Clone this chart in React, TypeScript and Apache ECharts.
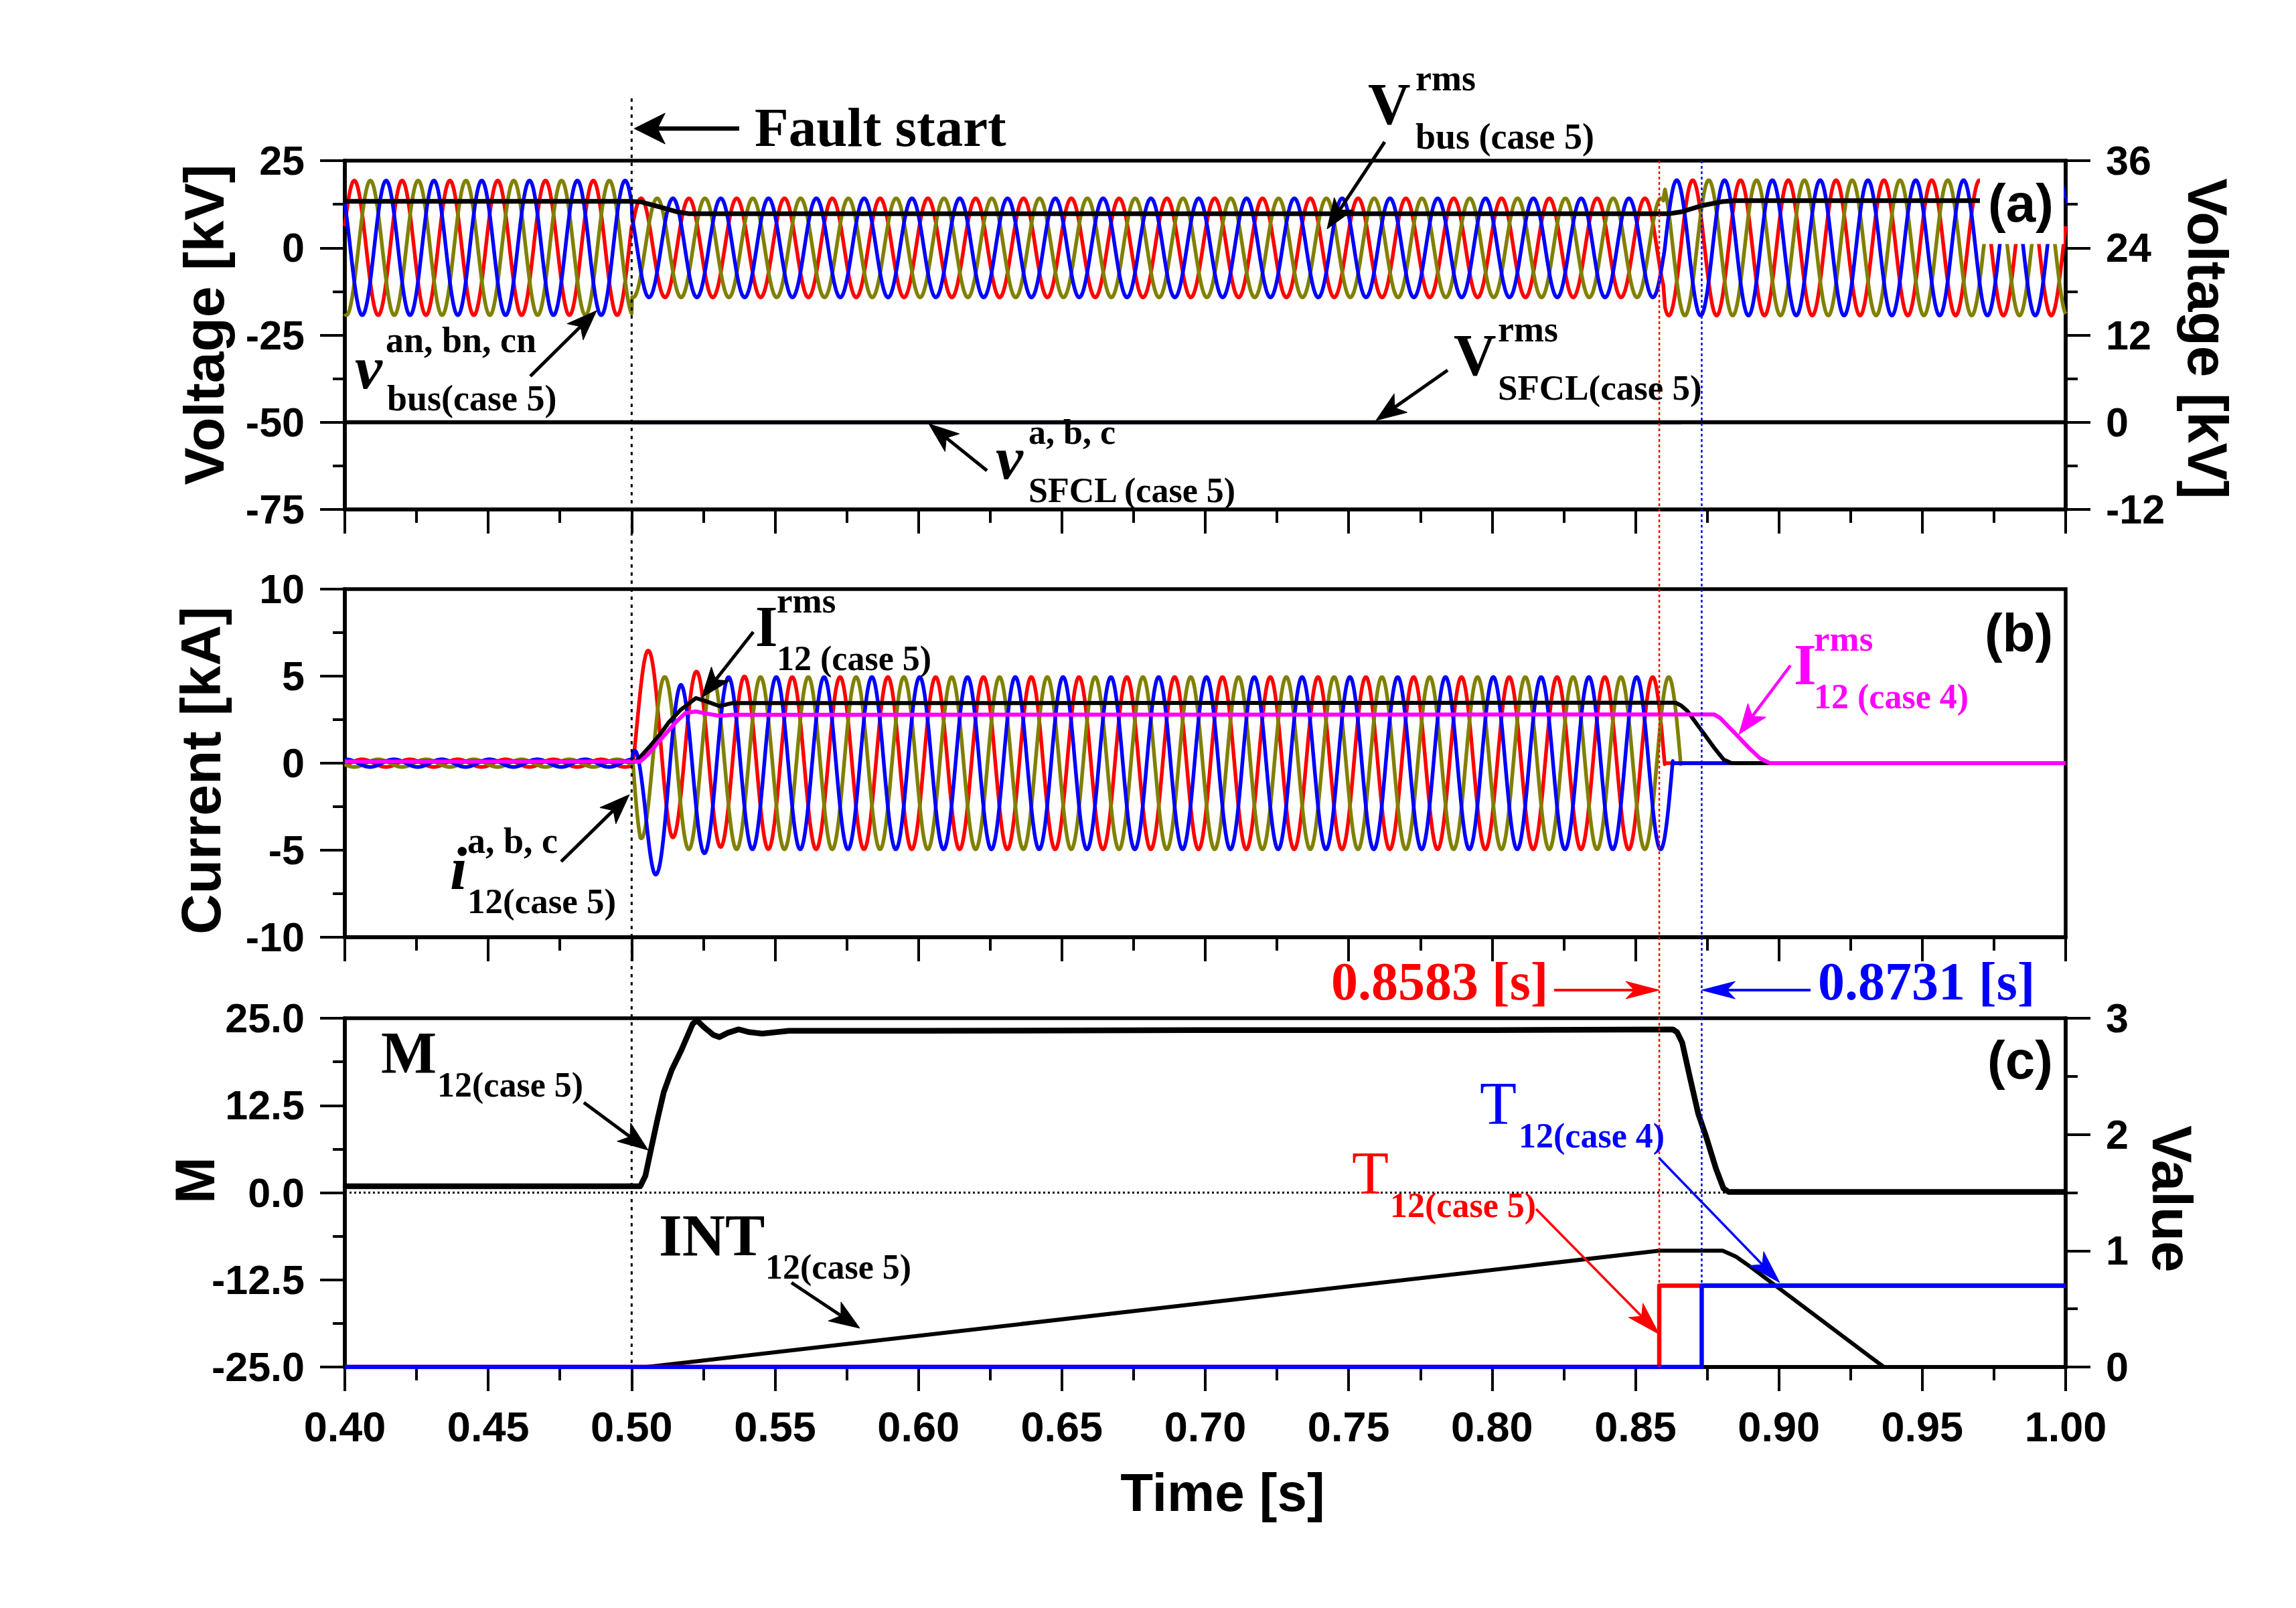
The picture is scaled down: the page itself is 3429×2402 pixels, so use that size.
import React, { useEffect, useRef } from 'react';
import * as echarts from 'echarts';

// ================= values =================
const TIME_MIN = 0.4;
const TIME_MAX = 1.0;
const TIME_INTERVAL = 0.05;
const MAINS_HZ = 60; // 6 cycles per 0.1 s in the plot
const FAULT_START = 0.5;
const BREAK_TIMES = [0.8583, 0.8731]; // case 5 (red), case 4 (blue)
const PHASE_COLORS = ['#FF0000', '#808000', '#0000FF'];
const SFCL_PHASE_COLORS = ['#FF0000', '#00CC00', '#0000FF'];

// ---- panel (a): bus phase voltages [kV], left axis
const VBUS_CREST_TIME = [0.4033, 0.4089, 0.4144]; // first crest of phases a, b, c
const VBUS_CREST = [[0.4, 19.3], [0.5, 19.3], [0.5002, 14.2], [0.8597, 14.2], [0.8603, 19.4], [1.0, 19.4]];
// rms values [kV], right axis
const VBUS_RMS = [[0.4, 30.4], [0.5, 30.4], [0.5035, 30.3], [0.51, 29.6], [0.516, 28.95], [0.52, 28.7], [0.8616, 28.7], [0.866, 28.95], [0.873, 29.8], [0.88, 30.35], [0.8847, 30.5], [1.0, 30.5]];
const VSFCL_RMS = [[0.4, 0], [1.0, 0]];
const VSFCL_PHASE = [[0.5, -0.15], [0.866, -0.15]];

// ---- panel (b): line currents [kA]
const I12_CREST_TIME = [0.506, 0.5116, 0.5171];
const I12_CREST = [[0.4, 0.22], [0.5003, 0.22], [0.5004, 4.95], [1.0, 4.95]];
const I12_OFFSET_A = [[0.4, 0], [0.5003, 0], [0.5004, 2.4], [0.506, 1.5], [0.514, 0.7], [0.523, 0.3], [0.535, 0.05], [0.55, 0], [1.0, 0]];
const I12_OFFSET_B = [[0.4, 0], [0.5003, 0], [0.5004, 2.5], [0.503, 0.65], [0.5116, 0], [1.0, 0]];
const I12_OFFSET_C = [[0.4, 0], [0.5003, 0], [0.5004, -4.4], [0.5045, -2.5], [0.509, -1.35], [0.5171, -0.45], [0.534, 0], [1.0, 0]];
const I12_INTERRUPT = [0.8602, 0.8658, 0.863];
const I12_RMS_CASE5 = [[0.4, 0.1], [0.5016, 0.1], [0.506, 0.9], [0.5098, 1.64], [0.513, 2.35], [0.517, 3.05], [0.5224, 3.74], [0.526, 3.55], [0.5306, 3.28], [0.535, 3.45], [0.864, 3.47], [0.866, 3.3], [0.8681, 3.0], [0.8707, 2.4], [0.8741, 1.64], [0.8774, 0.89], [0.8808, 0.2], [0.8835, 0], [1.0, 0]];
const I12_RMS_CASE4 = [[0.4, 0.1], [0.5031, 0.1], [0.506, 0.55], [0.5098, 1.3], [0.5157, 2.4], [0.5187, 2.88], [0.5224, 2.97], [0.526, 2.85], [0.5306, 2.72], [0.535, 2.78], [0.8774, 2.8], [0.8795, 2.6], [0.8815, 2.26], [0.8855, 1.58], [0.8895, 0.89], [0.8935, 0.27], [0.8969, 0], [1.0, 0]];

// ---- panel (c)
const M12_CASE5 = [[0.4, 0.9], [0.503, 0.9], [0.5048, 2.4], [0.5067, 6.1], [0.509, 10.5], [0.5112, 14.4], [0.514, 17.6], [0.5172, 20.3], [0.5213, 24.2], [0.5228, 24.7], [0.525, 23.8], [0.5285, 22.6], [0.5306, 22.3], [0.5335, 22.9], [0.5373, 23.4], [0.541, 23.0], [0.5455, 22.8], [0.555, 23.2], [0.6, 23.2], [0.7, 23.3], [0.8, 23.3], [0.863, 23.4], [0.8645, 23.0], [0.8663, 21.5], [0.869, 16.5], [0.8719, 11.3], [0.8745, 8.2], [0.8781, 3.4], [0.8807, 0.6], [0.8825, 0.1], [1.0, 0.1]];
const INT12_CASE5 = [[0.4, 0], [0.5052, 0], [0.8583, 1.0], [0.8804, 1.0], [0.885, 0.95], [0.8902, 0.86], [0.9366, 0]];
const T12_CASE5 = [[0.4, 0], [0.8583, 0], [0.8583, 0.7], [1.0, 0.7]];
const T12_CASE4 = [[0.4, 0], [0.8731, 0], [0.8731, 0.7], [1.0, 0.7]];

// ---- axis scales
const VOLT_LEFT = [-75, 25, 25];
const VOLT_RIGHT = [-12, 36, 12];
const CURRENT_AXIS = [-10, 10, 5];
const M_AXIS = [-25, 25, 12.5];
const VALUE_AXIS = [0, 3, 1];

// ================= helpers =================
function lookup(tbl: number[][], t: number): number {
  if (t <= tbl[0][0]) return tbl[0][1];
  for (let i = 1; i < tbl.length; i++) {
    if (t <= tbl[i][0]) {
      const [t0, v0] = tbl[i - 1];
      const [t1, v1] = tbl[i];
      if (t1 === t0) return v1;
      return v0 + ((v1 - v0) * (t - t0)) / (t1 - t0);
    }
  }
  return tbl[tbl.length - 1][1];
}

function phaseTrace(crestTime: number, crest: number[][], offset: number[][] | null, cutoff: number | null) {
  const step = 0.0001;
  const times: number[] = [];
  const n = Math.round((TIME_MAX - TIME_MIN) / step);
  for (let k = 0; k <= n; k++) times.push(TIME_MIN + k * step);
  crest.forEach((p) => times.push(p[0]));
  if (offset) offset.forEach((p) => times.push(p[0]));
  times.sort((a, b) => a - b);
  const val = (t: number) =>
    lookup(crest, t) * Math.cos(2 * Math.PI * MAINS_HZ * (t - crestTime)) + (offset ? lookup(offset, t) : 0);
  const out: number[][] = [];
  let last = -1;
  for (const t of times) {
    if (t - last < 1e-7) continue;
    last = t;
    if (cutoff !== null && t > cutoff) break;
    out.push([+t.toFixed(5), +val(t).toFixed(3)]);
  }
  if (cutoff !== null) {
    out.push([cutoff, +val(cutoff).toFixed(3)]);
    out.push([cutoff, 0]);
    out.push([TIME_MAX, 0]);
  }
  return out;
}

const AXIS_FONT = 'Liberation Sans';
const SERIF = 'Liberation Serif';

const GRID_LEFT = 515;
const GRID_WIDTH = 2570;
const GRIDS = [
  { top: 240, height: 521 },
  { top: 880, height: 520 },
  { top: 1521, height: 521 },
];

function xAxisFor(gridIndex: number, labels: boolean) {
  return {
    type: 'value',
    gridIndex,
    min: TIME_MIN,
    max: TIME_MAX,
    interval: TIME_INTERVAL,
    axisLine: { show: true, onZero: false, lineStyle: { color: '#000', width: 5.5 } },
    axisTick: { show: true, inside: false, length: 36, lineStyle: { color: '#000', width: 4 } },
    minorTick: { show: true, splitNumber: 2, length: 20, lineStyle: { color: '#000', width: 4 } },
    splitLine: { show: false },
    minorSplitLine: { show: false },
    axisLabel: {
      show: labels,
      margin: 57,
      fontSize: 63,
      lineHeight: 63,
      fontWeight: 'bold',
      fontFamily: AXIS_FONT,
      color: '#000',
      formatter: (v: number) => v.toFixed(2),
    },
  };
}

function yAxisFor(gridIndex: number, position: string, scale: number[], decimals: number, show = true) {
  return {
    type: 'value',
    gridIndex,
    position,
    min: scale[0],
    max: scale[1],
    interval: scale[2],
    axisLine: { show: true, onZero: false, lineStyle: { color: '#000', width: 5.5 } },
    axisTick: { show, inside: false, length: 37, lineStyle: { color: '#000', width: 4 } },
    minorTick: { show, splitNumber: 2, length: 18, lineStyle: { color: '#000', width: 4 } },
    splitLine: { show: false },
    minorSplitLine: { show: false },
    axisLabel: {
      show,
      margin: 60,
      fontSize: 61,
      fontWeight: 'bold',
      fontFamily: AXIS_FONT,
      color: '#000',
      formatter: (v: number) => v.toFixed(decimals),
    },
  };
}

function line(name: string, data: number[][], x: number, y: number, color: string, width: number, extra: any = {}) {
  return {
    name,
    type: 'line',
    xAxisIndex: x,
    yAxisIndex: y,
    data,
    showSymbol: false,
    symbol: 'none',
    silent: true,
    lineStyle: { color, width, cap: 'butt', join: 'round' },
    itemStyle: { color },
    ...extra,
  };
}

function buildOption() {
  const vOffsets = [I12_OFFSET_A, I12_OFFSET_B, I12_OFFSET_C];
  const series: any[] = [];
  // (a)
  PHASE_COLORS.forEach((c, i) =>
    series.push(line('v_bus_' + i, phaseTrace(VBUS_CREST_TIME[i], VBUS_CREST, null, null), 0, 0, c, 5.5))
  );
  SFCL_PHASE_COLORS.forEach((c, i) => series.push(line('v_sfcl_' + i, VSFCL_PHASE, 0, 1, c, 2.5)));
  series.push(line('V_sfcl_rms', VSFCL_RMS, 0, 1, '#000', 6));
  series.push(line('V_bus_rms', VBUS_RMS, 0, 1, '#000', 7));
  // (b)
  PHASE_COLORS.forEach((c, i) =>
    series.push(line('i12_' + i, phaseTrace(I12_CREST_TIME[i], I12_CREST, vOffsets[i], I12_INTERRUPT[i]), 1, 2, c, 5.5))
  );
  series.push(line('I12_rms_case5', I12_RMS_CASE5, 1, 2, '#000', 6));
  series.push(line('I12_rms_case4', I12_RMS_CASE4, 1, 2, '#FF00FF', 6));
  // (c)
  series.push(
    line('M12_case5', M12_CASE5, 2, 3, '#000', 8.5, {
      markLine: {
        silent: true,
        symbol: ['none', 'none'],
        label: { show: false },
        lineStyle: { color: '#000', width: 3, type: [3, 4] },
        data: [{ yAxis: 0 }],
      },
    })
  );
  series.push(line('INT12_case5', INT12_CASE5, 2, 4, '#000', 6));
  series.push(line('T12_case5', T12_CASE5, 2, 4, '#FF0000', 6.5));
  series.push(line('T12_case4', T12_CASE4, 2, 4, '#0000FF', 6.5));

  return {
    animation: false,
    backgroundColor: '#fff',
    grid: GRIDS.map((g) => ({
      left: GRID_LEFT,
      width: GRID_WIDTH,
      top: g.top,
      height: g.height,
      show: true,
      borderColor: '#000',
      borderWidth: 5.5,
      backgroundColor: 'transparent',
    })),
    xAxis: [xAxisFor(0, false), xAxisFor(1, false), xAxisFor(2, true)],
    yAxis: [
      yAxisFor(0, 'left', VOLT_LEFT, 0),
      yAxisFor(0, 'right', VOLT_RIGHT, 0),
      yAxisFor(1, 'left', CURRENT_AXIS, 0),
      yAxisFor(2, 'left', M_AXIS, 1),
      yAxisFor(2, 'right', VALUE_AXIS, 0),
    ],
    series,
  };
}

// ---------- annotation helpers (pixel layout) ----------
function txt(text: string, x: number, baseline: number, size: number, o: any = {}) {
  const sans = !!o.sans;
  const c = sans ? 0.3465 : 0.3375;
  const align = o.align || 'left';
  return {
    type: 'text',
    z: 130,
    x,
    y: baseline - c * size,
    style: {
      text,
      fontSize: size,
      fontFamily: sans ? AXIS_FONT : SERIF,
      fontWeight: o.bold === false ? 'normal' : 'bold',
      fontStyle: o.italic ? 'italic' : 'normal',
      fill: o.color || '#000',
      textAlign: align,
      textVerticalAlign: 'middle',
      align,
      verticalAlign: 'middle',
    },
  };
}

function title(text: string, x: number, y: number, size: number, rotation: number) {
  return {
    type: 'text',
    z: 130,
    x,
    y,
    rotation,
    style: {
      text,
      fontSize: size,
      fontFamily: AXIS_FONT,
      fontWeight: 'bold',
      fill: '#000',
      textAlign: 'center',
      textVerticalAlign: 'middle',
      align: 'center',
      verticalAlign: 'middle',
    },
  };
}

function arrow(x1: number, y1: number, x2: number, y2: number, color = '#000', lw = 5, hl = 45, hw = 17) {
  const dx = x2 - x1;
  const dy = y2 - y1;
  const L = Math.hypot(dx, dy);
  const ux = dx / L;
  const uy = dy / L;
  const bx = x2 - ux * hl;
  const by = y2 - uy * hl;
  const nx = bx + ux * hl * 0.25;
  const ny = by + uy * hl * 0.25;
  const px = -uy;
  const py = ux;
  return [
    { type: 'line', z: 120, shape: { x1, y1, x2: nx, y2: ny }, style: { stroke: color, lineWidth: lw } },
    {
      type: 'polygon',
      z: 121,
      shape: { points: [[x2, y2], [bx + px * hw, by + py * hw], [nx, ny], [bx - px * hw, by - py * hw]] },
      style: { fill: color, stroke: color, lineWidth: 1 },
    },
  ];
}

function vline(x: number, y1: number, y2: number, color: string, lw: number, dash: number[]) {
  return { type: 'line', z: 60, shape: { x1: x, y1, x2: x, y2 }, style: { stroke: color, lineWidth: lw, lineDash: dash } };
}

function buildGraphics(chart: any) {
  const X = (t: number) => chart.convertToPixel({ xAxisIndex: 0 }, t) as number;
  const Ya = (v: number) => chart.convertToPixel({ yAxisIndex: 0 }, v) as number;
  const yTop = Ya(VOLT_LEFT[1]);
  const yBottom = chart.convertToPixel({ yAxisIndex: 3 }, M_AXIS[0]) as number;
  const RED = '#FF0000';
  const BLUE = '#0000FF';
  const MAG = '#FF00FF';
  const els: any[] = [];

  els.push(vline(X(FAULT_START), 147, yBottom, '#000', 3, [5, 7]));
  els.push(vline(X(BREAK_TIMES[0]), yTop, yBottom, RED, 2.5, [4, 4]));
  els.push(vline(X(BREAK_TIMES[1]), yTop, yBottom, BLUE, 2.5, [4, 4]));

  // white box behind "(a)"
  const boxL = 2957;
  const boxR = X(TIME_MAX) - 3;
  els.push({ type: 'rect', z: 90, shape: { x: boxL, y: yTop + 3, width: boxR - boxL, height: Ya(1.1) - yTop - 3 }, style: { fill: '#fff' } });

  // panel labels
  els.push(txt('(a)', 3018, 331, 80, { sans: true, align: 'center' }));
  els.push(txt('(b)', 3015, 973, 80, { sans: true, align: 'center' }));
  els.push(txt('(c)', 3017, 1611, 80, { sans: true, align: 'center' }));

  // axis titles
  els.push(title('Voltage [kV]', 305, 485, 84, Math.PI / 2));
  els.push(title('Current [kA]', 300, 1151, 84, Math.PI / 2));
  els.push(title('M', 291, 1763, 84, Math.PI / 2));
  els.push(title('Voltage [kV]', 3297, 506, 84, -Math.PI / 2));
  els.push(title('Value', 3244, 1791, 84, -Math.PI / 2));
  els.push(title('Time [s]', 1826, 2229, 80, 0));

  // Fault start
  els.push(txt('Fault start', 1127, 218, 83));
  els.push(...arrow(1104, 192, X(FAULT_START) + 4, 192, '#000', 6.5, 46, 23));

  // V rms bus
  els.push(txt('V', 2043, 185, 88));
  els.push(txt('rms', 2114, 135, 54));
  els.push(txt('bus (case 5)', 2114, 222, 54));
  els.push(...arrow(2068, 212, 1982, 342));

  // v bus phases
  els.push(txt('v', 530, 580, 92, { italic: true }));
  els.push(txt('an, bn, cn', 576, 526, 54));
  els.push(txt('bus(case 5)', 578, 613, 54));
  els.push(...arrow(792, 562, 891, 464));

  // V rms SFCL
  els.push(txt('V', 2171, 560, 88));
  els.push(txt('rms', 2237, 510, 54));
  els.push(txt('SFCL(case 5)', 2237, 597, 53));
  els.push(...arrow(2162, 553, 2055, 628));

  // v SFCL
  els.push(txt('v', 1487, 715, 92, { italic: true }));
  els.push(txt('a, b, c', 1536, 663, 52));
  els.push(txt('SFCL (case 5)', 1536, 750, 52));
  els.push(...arrow(1474, 703, 1387, 633));

  // I rms case 5
  els.push(txt('I', 1128, 965, 86));
  els.push(txt('rms', 1160, 915, 53));
  els.push(txt('12 (case 5)', 1160, 1001, 52));
  els.push(...arrow(1125, 944, 1048, 1042));

  // i phases
  els.push(txt('i', 672, 1328, 92, { italic: true }));
  els.push(txt('a, b, c', 698, 1274, 54));
  els.push(txt('12(case 5)', 698, 1364, 53));
  els.push(...arrow(838, 1287, 940, 1187));

  // I rms case 4
  els.push(txt('I', 2679, 1022, 86, { color: MAG }));
  els.push(txt('rms', 2709, 972, 53, { color: MAG }));
  els.push(txt('12 (case 4)', 2709, 1058, 52, { color: MAG }));
  els.push(...arrow(2674, 994, 2597, 1097, MAG, 4.5, 45, 17));

  // breaker times
  els.push(txt('0.8583 [s]', 1988, 1493, 80, { color: RED }));
  els.push(...arrow(2321, 1479, X(BREAK_TIMES[0]), 1479, RED, 4, 50, 13));
  els.push(txt('0.8731 [s]', 2715, 1493, 80, { color: BLUE }));
  els.push(...arrow(2704, 1479, X(BREAK_TIMES[1]), 1479, BLUE, 4, 50, 13));

  // M
  els.push(txt('M', 569, 1602, 88));
  els.push(txt('12(case 5)', 653, 1638, 52));
  els.push(...arrow(872, 1647, 968, 1718));

  // T case 4
  els.push(txt('T', 2210, 1679, 90, { bold: false, color: BLUE }));
  els.push(txt('12(case 4)', 2268, 1714, 52, { color: BLUE }));
  els.push(...arrow(2478, 1730, 2658, 1916, BLUE, 3.5, 50, 15));

  // T case 5
  els.push(txt('T', 2019, 1783, 90, { bold: false, color: RED }));
  els.push(txt('12(case 5)', 2076, 1818, 52, { color: RED }));
  els.push(...arrow(2294, 1806, 2478, 1993, RED, 3.5, 50, 15));

  // INT
  els.push(txt('INT', 984, 1875, 89));
  els.push(txt('12(case 5)', 1143, 1910, 52));
  els.push(...arrow(1182, 1916, 1284, 1984));

  return { elements: els };
}

export default function App() {
  const ref = useRef<HTMLDivElement>(null);
  useEffect(() => {
    const el = ref.current;
    if (!el) return;
    const chart = echarts.init(el, null, { renderer: 'svg', width: 3429, height: 2402 });
    chart.setOption(buildOption() as any);
    chart.setOption({ graphic: buildGraphics(chart) } as any);
    return () => chart.dispose();
  }, []);
  return (
    <div
      ref={ref}
      style={{ position: 'fixed', left: 0, top: 0, width: 3429, height: 2402, background: '#fff' }}
    />
  );
}
